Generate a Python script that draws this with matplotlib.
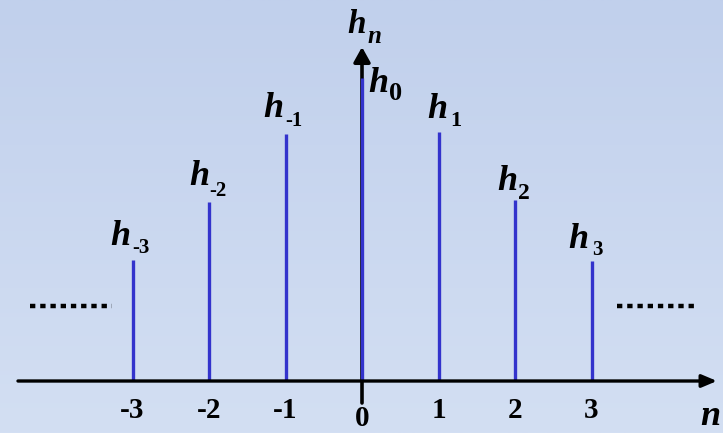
import matplotlib
matplotlib.use("Agg")
import matplotlib.pyplot as plt
import numpy as np
from matplotlib.colors import LinearSegmentedColormap

# sample index and the height of each stem
n_values = [-3, -2, -1, 0, 1, 2, 3]
h_values = [1.21, 1.79, 2.47, 3.03, 2.49, 1.81, 1.20]
sub_labels = ["-3", "-2", "-1", "0", "1", "2", "3"]
tick_labels = ["-3", "-2", "-1", "0", "1", "2", "3"]

# label layout, in pixels relative to the stem top: (h dx, h dy, sub dx, sub dy, sub size)
label_layout = [
    (-12, 15, 0, 7, 15),
    (-10, 17, 0, 6, 15),
    (-12, 17, 0, 8, 15),
    (16, -14, 27, -22, 19),
    (-1, 14, 12, 6, 16),
    (-8, 10, 3, 1, 17),
    (-13, 13, 1, 6, 15),
]

stem_color = "#3333cc"
serif = "Liberation Serif"


def add_h_label(axis, x, y, dx, dy, sub_dx, sub_dy, sub_text, sub_size, h_size=26, sub_style="normal"):
    axis.annotate("h", xy=(x, y), xytext=(dx, dy), textcoords="offset pixels", ha="center", va="baseline",
                  fontsize=h_size, family=serif, weight="bold", style="italic", zorder=6)
    axis.annotate(sub_text, xy=(x, y), xytext=(sub_dx, sub_dy), textcoords="offset pixels", ha="left", va="baseline",
                  fontsize=sub_size, family=serif, weight="bold", style=sub_style, zorder=6)


def main():
    figure = plt.figure(figsize=(7.23, 4.33), dpi=100)
    axis = figure.add_axes([0, 0, 1, 1])
    axis.set_xlim(-362 / 76.5, 361 / 76.5)
    axis.set_ylim(-0.52, 3.81)
    axis.axis("off")

    # light blue vertical gradient behind everything
    background = LinearSegmentedColormap.from_list("bg", ["#d3dff3", "#c1d0ec"])
    gradient = np.linspace(0, 1, 256).reshape(-1, 1)
    axis.imshow(gradient, extent=[0, 1, 0, 1], transform=axis.transAxes, origin="lower",
                aspect="auto", cmap=background, zorder=0)

    # vertical axis with arrow (tick below the horizontal axis)
    axis.annotate("", xy=(0, 3.34), xytext=(0, -0.22),
                  arrowprops=dict(arrowstyle="-|>,head_length=0.9,head_width=0.5", lw=2.6, color="black",
                                  shrinkA=0, shrinkB=0, mutation_scale=10), zorder=2)

    # stems
    axis.vlines(n_values, 0, h_values, color=stem_color, linewidth=2.4, zorder=3)

    # horizontal axis with arrow
    axis.annotate("", xy=(4.64, 0), xytext=(-4.497, 0),
                  arrowprops=dict(arrowstyle="-|>,head_length=0.9,head_width=0.38", lw=2.4, color="black",
                                  shrinkA=0, shrinkB=0, mutation_scale=10), zorder=4)

    # dotted continuation marks on both sides
    dots = (0, (1.2, 1.1))
    axis.plot([-4.34, -3.27], [0.75, 0.75], color="black", linewidth=3.2, linestyle=dots,
              dash_capstyle="butt", zorder=3)
    axis.plot([3.33, 4.38], [0.75, 0.75], color="black", linewidth=3.2, linestyle=dots,
              dash_capstyle="butt", zorder=3)

    # stem labels h_n
    for n, h, sub, layout in zip(n_values, h_values, sub_labels, label_layout):
        dx, dy, sub_dx, sub_dy, sub_size = layout
        add_h_label(axis, n, h, dx, dy, sub_dx, sub_dy, sub, sub_size)

    # tick labels under the axis, 0 sits lower and is kept inside the picture
    for n, text in zip(n_values, tick_labels):
        if n == 0:
            axis.annotate(text, xy=(n, 0), xytext=(0, -51), textcoords="offset pixels", ha="center",
                          va="bottom", fontsize=21, family=serif, weight="bold", zorder=6)
        else:
            axis.annotate(text, xy=(n, 0), xytext=(0, -37), textcoords="offset pixels", ha="center",
                          va="baseline", fontsize=21, family=serif, weight="bold", zorder=6)

    # axis names
    axis.annotate("n", xy=(4.64, 0), xytext=(-7, -44), textcoords="offset pixels", ha="center", va="baseline",
                  fontsize=26, family=serif, weight="bold", style="italic", zorder=6)
    add_h_label(axis, 0, 3.34, -5, 14, 5, 4, "n", 18, h_size=24, sub_style="italic")

    figure.savefig("out.png", dpi=100)


if __name__ == "__main__":
    main()
